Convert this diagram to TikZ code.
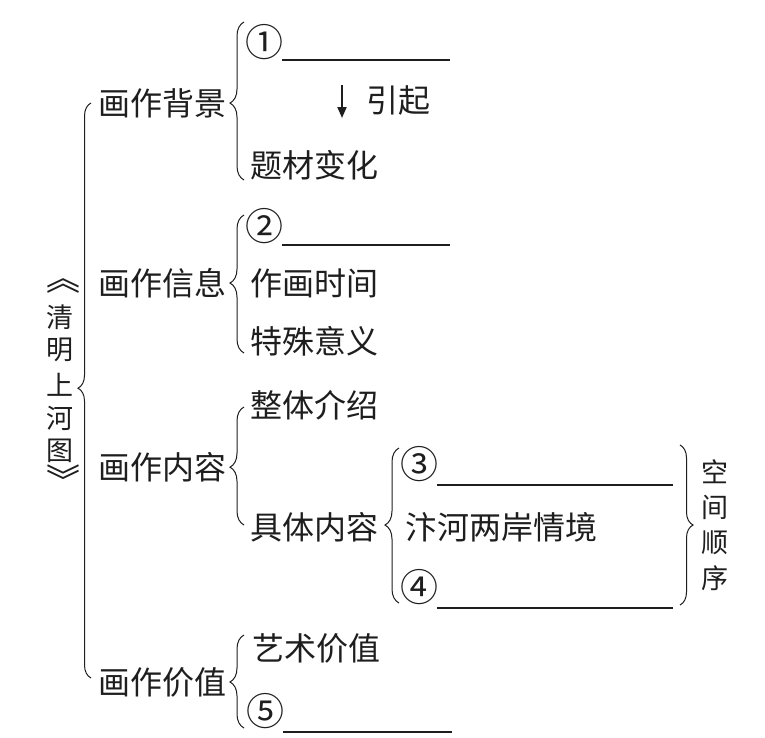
\documentclass[tikz,border=0pt]{standalone}
\usepackage{fontspec}
\setmainfont{Noto Sans CJK SC}
\usetikzlibrary{decorations.pathreplacing,arrows.meta}
\definecolor{ink}{HTML}{1E1E1E}
\begin{document}
\begin{tikzpicture}[x=1pt,y=-1pt,
  txt/.style={font=\fontsize{32}{32}\selectfont, inner sep=0pt, anchor=west, text=ink},
  circ/.style={font=\fontsize{38}{38}\selectfont, inner sep=0pt, anchor=center, text=ink},
  vtxt/.style={font=\fontsize{27}{27}\selectfont, inner sep=0pt, anchor=center, text=ink},
  chev/.style={font=\fontsize{34}{34}\selectfont, inner sep=0pt, anchor=center, text=ink},
  blank/.style={draw=ink, line width=1.1pt},
  brc/.style={draw=ink, line width=1pt, decorate, decoration={brace, amplitude=#1}},
  brc/.default=14pt]
\useasboundingbox[fill=white] (0,0) rectangle (765,737);

% title (vertical)
\node[chev] (t0) at (63,286) {︽};
\node[vtxt] (t1) at (60,317) {清};
\node[vtxt] (t2) at (60,350) {明};
\node[vtxt] (t3) at (60,385) {上};
\node[vtxt] (t4) at (60,418) {河};
\node[vtxt] (t5) at (60,451) {图};
\node[chev] (t6) at (63,479) {︾};

% main brace
\coordinate (mbT) at (91,103);
\coordinate (mbB) at (91,678);
\draw[brc=13pt, decoration={aspect=0.504}] (mbB) -- (mbT);

% level 1
\node[txt] (bg) at (98,103) {画作背景};
\node[txt] (xx) at (98,283) {画作信息};
\node[txt] (nr) at (98,467) {画作内容};
\node[txt] (jz) at (98,682) {画作价值};

% level-2 braces
\coordinate (b1T) at (244,22);  \coordinate (b1B) at (244,180);
\draw[brc, decoration={aspect=0.487}] (b1B) -- (b1T);
\coordinate (b2T) at (244,215); \coordinate (b2B) at (244,353);
\draw[brc, decoration={aspect=0.507}] (b2B) -- (b2T);
\coordinate (b3T) at (244,407); \coordinate (b3B) at (244,525);
\draw[brc, decoration={aspect=0.49}] (b3B) -- (b3T);
\coordinate (b4T) at (244,635); \coordinate (b4B) at (244,728);
\draw[brc, decoration={aspect=0.495}] (b4B) -- (b4T);

% background items
\node[circ] (n1) at (264,42) {①};
\coordinate (l1a) at (282,60); \coordinate (l1b) at (450,60);
\draw[blank] (l1a) -- (l1b);
\coordinate (arT) at (342,85); \coordinate (arB) at (342,118);
\draw[draw=ink, line width=2pt, -{Triangle[length=11pt,width=9pt]}] (arT) -- (arB);
\node[txt] (yq) at (366,100) {引起};
\node[txt] (tc) at (250,165) {题材变化};

% info items
\node[circ] (n2) at (264,226) {②};
\coordinate (l2a) at (282,245); \coordinate (l2b) at (450,245);
\draw[blank] (l2a) -- (l2b);
\node[txt] (zh) at (250,283) {作画时间};
\node[txt] (ts) at (250,341) {特殊意义};

% content items
\node[txt] (zt) at (250,405) {整体介绍};
\node[txt] (jt) at (250,527) {具体内容};

% level-3 brace
\coordinate (b5T) at (399,448); \coordinate (b5B) at (399,603);
\draw[brc, decoration={aspect=0.503}] (b5B) -- (b5T);
\node[circ] (n3) at (419,464) {③};
\coordinate (l3a) at (437,485); \coordinate (l3b) at (673,485);
\draw[blank] (l3a) -- (l3b);
\node[txt] (bh) at (405,527) {汴河两岸情境};
\node[circ] (n4) at (419,587) {④};
\coordinate (l4a) at (437,608); \coordinate (l4b) at (673,608);
\draw[blank] (l4a) -- (l4b);

% right brace
\coordinate (b6T) at (680,445); \coordinate (b6B) at (680,605);
\draw[brc=13pt, decoration={aspect=0.5}] (b6T) -- (b6B);
\node[vtxt] (k1) at (715,472) {空};
\node[vtxt] (k2) at (715,507) {间};
\node[vtxt] (k3) at (715,543) {顺};
\node[vtxt] (k4) at (715,578) {序};

% value items
\node[txt] (ys) at (252,648) {艺术价值};
\node[circ] (n5) at (265,711) {⑤};
\coordinate (l5a) at (283,732); \coordinate (l5b) at (452,732);
\draw[blank] (l5a) -- (l5b);
\end{tikzpicture}
\end{document}
